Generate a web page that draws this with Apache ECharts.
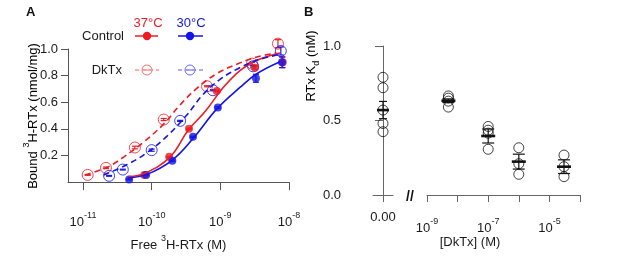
<!DOCTYPE html>
<html>
<head>
<meta charset="utf-8">
<script src="https://cdn.jsdelivr.net/npm/echarts@6/dist/echarts.min.js"></script>
<style>
  html, body { margin: 0; padding: 0; background: #fff; }
  #chart { width: 617px; height: 257px; }
</style>
</head>
<body>
<div id="chart"></div>
<script>
// ---- panel A: bound vs free 3H-RTx (M) ----
var redCtrlX = [7.8e-11, 1.8e-10, 3.5e-10, 8.9e-10, 3.2e-9, 8.1e-9];
var redCtrlY = [0.053, 0.19, 0.40, 0.685, 0.86, 0.90];
var redCtrlErr = [0.004, 0.004, 0.005, 0.006, 0.012, 0.04];

var blueCtrlX = [4.7e-11, 8.3e-11, 2.0e-10, 4.0e-10, 9.2e-10, 3.3e-9, 7.9e-9];
var blueCtrlY = [0.02, 0.054, 0.16, 0.34, 0.56, 0.78, 0.90];
var blueCtrlErr = [0.004, 0.004, 0.005, 0.005, 0.006, 0.03, 0.04];

var redDkX = [1.17e-11, 2.16e-11, 5.7e-11, 1.5e-10, 6.4e-10, 2.9e-9, 6.9e-9];
var redDkY = [0.054, 0.107, 0.26, 0.47, 0.72, 0.89, 1.04];
var redDkErr = [0.003, 0.006, 0.01, 0.008, 0.004, 0.01, 0.03];

var blueDkX = [2.4e-11, 3.8e-11, 1.0e-10, 2.6e-10, 7.8e-10, 3.0e-9, 7.6e-9];
var blueDkY = [0.047, 0.094, 0.24, 0.46, 0.69, 0.87, 0.985];
var blueDkErr = [0.003, 0.003, 0.008, 0.004, 0.004, 0.006, 0.03];

// fitted curves
var redFitX = [4.6e-11, 7.9e-11, 1.86e-10, 3.4e-10, 6.0e-10, 1.1e-9, 1.95e-9, 3.4e-9, 7.4e-9];
var redFitY = [0.042, 0.065, 0.19, 0.39, 0.53, 0.71, 0.84, 0.915, 0.97];
var blueFitX = [4.6e-11, 8.5e-11, 2.0e-10, 4.1e-10, 8.9e-10, 1.95e-9, 3.4e-9, 7.4e-9];
var blueFitY = [0.032, 0.058, 0.166, 0.334, 0.55, 0.713, 0.814, 0.904];
var redDkFitX = [1.07e-11, 2.2e-11, 3.9e-11, 7.6e-11, 1.48e-10, 2.6e-10, 4.5e-10, 8.8e-10, 1.74e-9, 3.4e-9, 6.6e-9];
var redDkFitY = [0.054, 0.109, 0.188, 0.30, 0.434, 0.58, 0.703, 0.814, 0.886, 0.94, 0.97];
var blueDkFitX = [2.0e-11, 4.4e-11, 8.5e-11, 1.66e-10, 3.2e-10, 5.6e-10, 9.8e-10, 1.74e-9, 3.4e-9, 7.4e-9];
var blueDkFitY = [0.054, 0.132, 0.22, 0.344, 0.50, 0.658, 0.77, 0.848, 0.915, 0.96];

var aXTicks = [1e-11, 1e-10, 1e-9, 1e-8];
var aYTicks = [0.2, 0.4, 0.6, 0.8, 1.0];

// ---- panel B: RTx Kd vs [DkTx] ----
var kdControl = [0.79, 0.72, 0.57, 0.48, 0.425];
var kdControlMean = 0.57;
var kdControlErr = 0.058;

var dktxConc = [5e-9, 1e-7, 1e-6, 3e-5];
var kdDkTx = [
  [0.665, 0.65, 0.63, 0.59],
  [0.46, 0.435, 0.415, 0.307],
  [0.317, 0.21, 0.139],
  [0.268, 0.19, 0.123]
];
var kdDkTxMean = [0.633, 0.396, 0.224, 0.19];
var kdDkTxErr = [0.012, 0.047, 0.05, 0.046];

var bXTicks = [1e-9, 1e-8, 1e-7, 1e-6, 1e-5, 1e-4];
var bXLabels = [1e-9, 1e-7, 1e-5];
var bYTicks = [0, 0.5, 1.0];

var RED = '#ec1c24';
var BLUE = '#1414e6';
var FONT = 'Liberation Sans';
var TXT = '#1a1a1a';

function pairs(xs, ys) {
  return xs.map(function (x, i) { return [x, ys[i]]; });
}
function triples(xs, ys, es) {
  return xs.map(function (x, i) { return [x, ys[i], es[i]]; });
}

// superscript: small token pinned to the top of a taller line
var supRich = {
  b: { fontSize: 13, fontFamily: FONT, color: TXT, lineHeight: 18, verticalAlign: 'bottom' },
  s: { fontSize: 9, fontFamily: FONT, color: TXT, lineHeight: 9, verticalAlign: 'top' }
};
function powLabel(v) {
  return '{b|10}{s|' + Math.round(Math.log10(v)) + '}';
}

// vertical error bar with caps, optional mean crossbar
function errBar(capW, color, meanW) {
  return function (params, api) {
    var x = api.value(0), y = api.value(1), e = api.value(2);
    var hi = api.coord([x, y + e]);
    var lo = api.coord([x, y - e]);
    var c = api.coord([x, y]);
    var st = { stroke: color, lineWidth: 1.2 };
    var kids = [
      { type: 'line', shape: { x1: hi[0], y1: hi[1], x2: lo[0], y2: lo[1] }, style: st },
      { type: 'line', shape: { x1: hi[0] - capW / 2, y1: hi[1], x2: hi[0] + capW / 2, y2: hi[1] }, style: st },
      { type: 'line', shape: { x1: lo[0] - capW / 2, y1: lo[1], x2: lo[0] + capW / 2, y2: lo[1] }, style: st }
    ];
    if (meanW) {
      kids.push({ type: 'line', shape: { x1: c[0] - meanW / 2, y1: c[1], x2: c[0] + meanW / 2, y2: c[1] },
        style: { stroke: color, lineWidth: 2.6 } });
    }
    return { type: 'group', children: kids };
  };
}

function fitLine(xs, ys, color, dashed) {
  return {
    type: 'line', xAxisIndex: 0, yAxisIndex: 0,
    data: pairs(xs, ys), smooth: 0.4, showSymbol: false, clip: false,
    lineStyle: { color: color, width: 1.6, type: dashed ? [6, 4] : 'solid' }
  };
}
function dots(xs, ys, color, open) {
  return {
    type: 'scatter', xAxisIndex: 0, yAxisIndex: 0, clip: false,
    data: pairs(xs, ys), symbol: 'circle', symbolSize: open ? 11 : 8,
    itemStyle: open ? { color: 'rgba(0,0,0,0)', borderColor: color, borderWidth: 1 } : { color: color }
  };
}
function bars(xs, ys, es, color, xi, cap) {
  return {
    type: 'custom', xAxisIndex: xi, yAxisIndex: xi,
    data: triples(xs, ys, es), renderItem: errBar(cap, color, 0)
  };
}

// panel B data rows
var bCtrlPts = kdControl.map(function (v) { return [0, v]; });
var bDkPts = [];
dktxConc.forEach(function (c, i) {
  kdDkTx[i].forEach(function (v) { bDkPts.push([c, v]); });
});

var chart = echarts.init(document.getElementById('chart'), null, { renderer: 'canvas' });

var option = {
  animation: false,
  backgroundColor: '#fff',
  textStyle: { fontFamily: FONT, color: TXT },
  grid: [
    { left: 68, top: 49, width: 221, height: 149 },
    { left: 373, top: 46, width: 20, height: 149 },
    { left: 427, top: 46, width: 153, height: 149 }
  ],
  xAxis: [
    {
      gridIndex: 0, type: 'log', min: 6.05e-12, max: 1e-8,
      axisLine: { lineStyle: { color: '#555', width: 1 } },
      axisTick: { customValues: aXTicks, length: 8, lineStyle: { color: '#555' } },
      axisLabel: { customValues: aXTicks, formatter: powLabel, rich: supRich, margin: 29 },
      minorTick: { show: false }, splitLine: { show: false },
      name: '{b|Free }{s|3}{b|H-RTx (M)}', nameLocation: 'middle', nameGap: 43,
      nameTextStyle: { rich: supRich }
    },
    {
      gridIndex: 1, type: 'value', min: -1, max: 1,
      axisLine: { lineStyle: { color: '#666' } },
      axisTick: { customValues: [0], length: 7, lineStyle: { color: '#666' } },
      axisLabel: { customValues: [0], formatter: function () { return '0.00'; },
        fontSize: 13, color: TXT, margin: 16 },
      splitLine: { show: false }
    },
    {
      gridIndex: 2, type: 'log', min: 1e-9, max: 1e-4,
      axisLine: { lineStyle: { color: '#666' } },
      axisTick: { customValues: bXTicks, length: 7, lineStyle: { color: '#666' } },
      axisLabel: { customValues: bXLabels, formatter: powLabel, rich: supRich, margin: 22 },
      minorTick: { show: false }, splitLine: { show: false }
    }
  ],
  yAxis: [
    {
      gridIndex: 0, type: 'value', min: 0, max: 1,
      axisLine: { show: true, lineStyle: { color: '#555' } },
      axisTick: { show: true, customValues: aYTicks, length: 7, lineStyle: { color: '#555' } },
      axisLabel: { customValues: aYTicks, formatter: function (v) { return v.toFixed(1); },
        fontSize: 13, color: TXT, margin: 10 },
      splitLine: { show: false }
    },
    {
      gridIndex: 1, type: 'value', min: 0, max: 1, offset: 20,
      axisLine: { show: true, lineStyle: { color: '#666' } },
      axisTick: { show: true, customValues: bYTicks, length: 8, lineStyle: { color: '#666' } },
      axisLabel: { customValues: bYTicks, formatter: function (v) { return v.toFixed(1); },
        fontSize: 13, color: TXT, margin: 12 },
      splitLine: { show: false }
    },
    { gridIndex: 2, type: 'value', min: 0, max: 1, show: false }
  ],
  series: [
    fitLine(redFitX, redFitY, RED, false),
    fitLine(blueFitX, blueFitY, BLUE, false),
    fitLine(redDkFitX, redDkFitY, RED, true),
    fitLine(blueDkFitX, blueDkFitY, BLUE, true),
    bars(redCtrlX, redCtrlY, redCtrlErr, RED, 0, 6),
    bars(blueCtrlX, blueCtrlY, blueCtrlErr, BLUE, 0, 6),
    bars(redDkX, redDkY, redDkErr, RED, 0, 6),
    bars(blueDkX, blueDkY, blueDkErr, BLUE, 0, 6),
    dots(redDkX, redDkY, RED, true),
    dots(blueDkX, blueDkY, BLUE, true),
    dots(redCtrlX, redCtrlY, RED, false),
    dots(blueCtrlX, blueCtrlY, BLUE, false),
    {
      type: 'scatter', xAxisIndex: 1, yAxisIndex: 1, clip: false, data: bCtrlPts,
      symbolSize: 10, itemStyle: { color: 'rgba(0,0,0,0)', borderColor: '#111', borderWidth: 1 }
    },
    {
      type: 'scatter', xAxisIndex: 2, yAxisIndex: 2, clip: false, data: bDkPts,
      symbolSize: 10, itemStyle: { color: 'rgba(0,0,0,0)', borderColor: '#111', borderWidth: 1 }
    },
    {
      type: 'custom', xAxisIndex: 1, yAxisIndex: 1,
      data: [[0, kdControlMean, kdControlErr]], renderItem: errBar(8, '#111', 12)
    },
    {
      type: 'custom', xAxisIndex: 2, yAxisIndex: 2,
      data: triples(dktxConc, kdDkTxMean, kdDkTxErr), renderItem: errBar(12, '#111', 14)
    }
  ],
  graphic: [
    { type: 'text', left: 26, top: 6, style: { text: 'A', font: 'bold 13px ' + FONT, fill: '#111' } },
    { type: 'text', left: 304, top: 6, style: { text: 'B', font: 'bold 13px ' + FONT, fill: '#111' } },
    // legend
    { type: 'text', x: 148, y: 23, style: { text: '37°C', font: '13px ' + FONT, fill: RED, align: 'center', verticalAlign: 'middle' } },
    { type: 'text', x: 191, y: 23, style: { text: '30°C', font: '13px ' + FONT, fill: BLUE, align: 'center', verticalAlign: 'middle' } },
    { type: 'text', x: 124, y: 36, style: { text: 'Control', font: '13px ' + FONT, fill: TXT, align: 'right', verticalAlign: 'middle' } },
    { type: 'text', x: 122, y: 70, style: { text: 'DkTx', font: '13px ' + FONT, fill: TXT, align: 'right', verticalAlign: 'middle' } },
    { type: 'line', shape: { x1: 135, y1: 36, x2: 158, y2: 36 }, style: { stroke: RED, lineWidth: 1.5 } },
    { type: 'circle', shape: { cx: 147, cy: 36, r: 4.2 }, style: { fill: RED } },
    { type: 'line', shape: { x1: 178, y1: 36, x2: 203, y2: 36 }, style: { stroke: BLUE, lineWidth: 1.5 } },
    { type: 'circle', shape: { cx: 190, cy: 36, r: 4.2 }, style: { fill: BLUE } },
    { type: 'line', shape: { x1: 135, y1: 70, x2: 159, y2: 70 }, style: { stroke: RED, lineWidth: 1.2, lineDash: [4, 3], opacity: 0.7 } },
    { type: 'circle', shape: { cx: 147, cy: 70, r: 5 }, style: { fill: '#fff', stroke: RED, lineWidth: 0.9, opacity: 0.7 } },
    { type: 'line', shape: { x1: 143, y1: 70, x2: 151, y2: 70 }, style: { stroke: RED, lineWidth: 1, opacity: 0.7 } },
    { type: 'line', shape: { x1: 178, y1: 70, x2: 203, y2: 70 }, style: { stroke: BLUE, lineWidth: 1.2, lineDash: [4, 3], opacity: 0.7 } },
    { type: 'circle', shape: { cx: 190, cy: 70, r: 5 }, style: { fill: '#fff', stroke: BLUE, lineWidth: 0.9, opacity: 0.7 } },
    { type: 'line', shape: { x1: 186, y1: 70, x2: 194, y2: 70 }, style: { stroke: BLUE, lineWidth: 1, opacity: 0.7 } },
    // axis titles
    { type: 'text', x: 31, y: 116, rotation: Math.PI / 2,
      style: { text: '{b|Bound }{s|3}{b|H-RTx (nmol/mg)}', rich: supRich, align: 'center', verticalAlign: 'middle' } },
    { type: 'text', x: 313, y: 66, rotation: Math.PI / 2,
      style: { text: '{b|RTx K}{d|d}{b| (nM)}', align: 'center', verticalAlign: 'middle',
        rich: {
          b: { fontSize: 13, fontFamily: FONT, color: TXT, lineHeight: 16, verticalAlign: 'top' },
          d: { fontSize: 9, fontFamily: FONT, color: TXT, lineHeight: 9, verticalAlign: 'bottom' }
        } } },
    { type: 'text', x: 470, y: 242, style: { text: '[DkTx] (M)', font: '13px ' + FONT, fill: TXT, align: 'center', verticalAlign: 'middle' } },
    { type: 'text', x: 410, y: 197, style: { text: '//', font: 'bold 14px ' + FONT, fill: '#111', align: 'center', verticalAlign: 'middle' } }
  ]
};

chart.setOption(option);
</script>
</body>
</html>
